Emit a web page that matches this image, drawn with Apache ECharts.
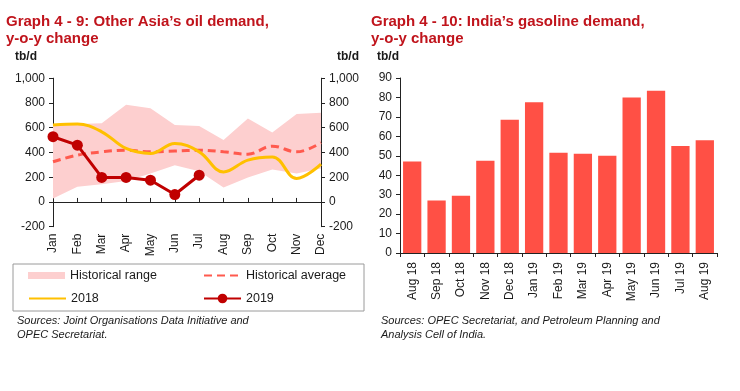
<!DOCTYPE html>
<html><head><meta charset="utf-8">
<script src="https://cdn.jsdelivr.net/npm/echarts@6/dist/echarts.min.js"></script>
<style>html,body{margin:0;padding:0;background:#fff}#c{width:740px;height:391px}</style>
</head><body><div id="c"></div>
<script>
var months = ['Jan','Feb','Mar','Apr','May','Jun','Jul','Aug','Sep','Oct','Nov','Dec'];
var histLow = [28,122,143,170,230,297,249,117,198,262,230,270];
var histHigh = [620,630,635,785,757,621,613,500,675,562,710,721];
var histAvg = [325,378,405,418,405,411,418,405,386,451,405,478];
var y2018 = [621,629,567,432,392,473,405,243,338,364,190,305];
var y2019 = [527,459,198,198,176,60,216];
var leftTicks = [-200,0,200,400,600,800,1000];

var barCats = ['Aug 18','Sep 18','Oct 18','Nov 18','Dec 18','Jan 19','Feb 19','Mar 19','Apr 19','May 19','Jun 19','Jul 19','Aug 19'];
var barVals = [47,27,29.5,47.5,68.5,77.5,51.5,51,50,80,83.5,55,58];

var FONT = '"Liberation Sans", Arial, sans-serif';
var TXT = '#1a1a1a';
var RED_T = '#c0141c';

var chart = echarts.init(document.getElementById('c'), null, {renderer:'canvas'});

var histRange = histHigh.map(function(v,i){return v - histLow[i];});

function fmt(v){ return v.toLocaleString('en-US'); }

var axisCommon = {
  axisLine:{show:true, lineStyle:{color:'#222', width:1}},
  axisTick:{show:true, length:4, lineStyle:{color:'#222'}},
  splitLine:{show:false},
  axisLabel:{color:TXT, fontSize:12, fontFamily:FONT}
};
var legTxt = {fontSize:12.5, color:TXT, fontFamily:FONT};

var option = {
  animation:false,
  textStyle:{fontFamily:FONT},
  title:[
    {text:'Graph 4 - 9: Other Asia\u2019s oil demand,\ny-o-y change', left:6, top:13, padding:0,
     textStyle:{fontSize:15, fontWeight:'bold', color:RED_T, fontFamily:FONT, lineHeight:17}},
    {text:'Graph 4 - 10: India\u2019s gasoline demand,\ny-o-y change', left:371, top:13, padding:0,
     textStyle:{fontSize:15, fontWeight:'bold', color:RED_T, fontFamily:FONT, lineHeight:17}}
  ],
  grid:[
    {left:53, right:419, top:78.2, bottom:164.3, containLabel:false},
    {left:400, right:23, top:78, bottom:138, containLabel:false}
  ],
  xAxis:[
    Object.assign({}, axisCommon, {
      type:'category', gridIndex:0, data:months, boundaryGap:false,
      axisLine:{show:true, onZero:true, lineStyle:{color:'#222'}},
      axisTick:{show:true, inside:true, length:4, lineStyle:{color:'#222'}},
      axisLabel:{color:TXT, fontSize:12, fontFamily:FONT, rotate:90, margin:7, interval:0}
    }),
    Object.assign({}, axisCommon, {
      type:'category', gridIndex:1, data:barCats, boundaryGap:true,
      axisTick:{show:true, length:4, alignWithLabel:false, interval:0, lineStyle:{color:'#222'}},
      axisLabel:{color:TXT, fontSize:12, fontFamily:FONT, rotate:90, margin:9, interval:0}
    })
  ],
  yAxis:[
    Object.assign({}, axisCommon, {
      type:'value', gridIndex:0, position:'left', min:leftTicks[0], max:leftTicks[leftTicks.length-1], interval:200,
      axisLabel:{color:TXT, fontSize:12, fontFamily:FONT, margin:8, formatter:fmt}
    }),
    Object.assign({}, axisCommon, {
      type:'value', gridIndex:0, position:'right', min:leftTicks[0], max:leftTicks[leftTicks.length-1], interval:200,
      axisLabel:{color:TXT, fontSize:12, fontFamily:FONT, margin:8, formatter:fmt}
    }),
    Object.assign({}, axisCommon, {
      type:'value', gridIndex:1, position:'left', min:0, max:90, interval:10,
      axisLabel:{color:TXT, fontSize:12, fontFamily:FONT, margin:8}
    })
  ],
  legend:[
    {data:['Historical range'], left:28, top:269, padding:0, icon:'rect', itemWidth:37, itemHeight:7, itemGap:5, textStyle:legTxt},
    {data:[{name:'Historical average', itemStyle:{opacity:0}}], left:203, top:269, padding:0, itemWidth:37, itemHeight:12, itemGap:6, textStyle:legTxt},
    {data:[{name:'2018', itemStyle:{opacity:0}}], left:28, top:292, padding:0, itemWidth:37, itemHeight:12, itemGap:5, textStyle:legTxt},
    {data:['2019'], left:203, top:292, padding:0, itemWidth:37, itemHeight:12, itemGap:6, textStyle:legTxt}
  ],
  graphic:[
    {type:'rect', shape:{x:13, y:264, width:351, height:47}, style:{fill:'none', stroke:'#9a9a9a', lineWidth:1}, silent:true},
    {type:'text', left:15, top:51, style:{text:'tb/d', font:'bold 12px '+FONT, fill:TXT}},
    {type:'text', left:337, top:51, style:{text:'tb/d', font:'bold 12px '+FONT, fill:TXT}},
    {type:'text', left:377, top:51, style:{text:'tb/d', font:'bold 12px '+FONT, fill:TXT}},
    {type:'text', left:17, top:314, style:{text:'Sources: Joint Organisations Data Initiative and\nOPEC Secretariat.', font:'italic 11px '+FONT, fill:TXT, lineHeight:14}},
    {type:'text', left:381, top:314, style:{text:'Sources: OPEC Secretariat, and Petroleum Planning and\nAnalysis Cell of India.', font:'italic 11px '+FONT, fill:TXT, lineHeight:14}}
  ],
  series:[
    {name:'histLow', type:'line', xAxisIndex:0, yAxisIndex:0, stack:'band', data:histLow,
     symbol:'none', lineStyle:{opacity:0}, silent:true, z:1},
    {name:'Historical range', type:'line', xAxisIndex:0, yAxisIndex:0, stack:'band', data:histRange,
     symbol:'none', lineStyle:{opacity:0, width:0}, itemStyle:{color:'#fdcfcf'},
     areaStyle:{color:'#fdcfcf', opacity:1}, silent:true, z:1},
    {name:'Historical average', type:'line', xAxisIndex:0, yAxisIndex:0, data:histAvg, smooth:0.4,
     symbol:'none', itemStyle:{color:'#ff5a4e'}, lineStyle:{color:'#ff5a4e', width:3, type:[8,5]}, z:3},
    {name:'2018', type:'line', xAxisIndex:0, yAxisIndex:0, data:y2018, smooth:0.4,
     symbol:'none', itemStyle:{color:'#ffc000'}, lineStyle:{color:'#ffc000', width:3}, z:4},
    {name:'2019', type:'line', xAxisIndex:0, yAxisIndex:0, data:y2019,
     symbol:'circle', symbolSize:11, showAllSymbol:true, itemStyle:{color:'#c00000'}, lineStyle:{color:'#c00000', width:3}, z:5},
    {name:'India gasoline', type:'bar', xAxisIndex:1, yAxisIndex:2, data:barVals,
     barCategoryGap:'25%', itemStyle:{color:'#ff5045'}}
  ]
};
chart.setOption(option);
</script>
</body></html>
